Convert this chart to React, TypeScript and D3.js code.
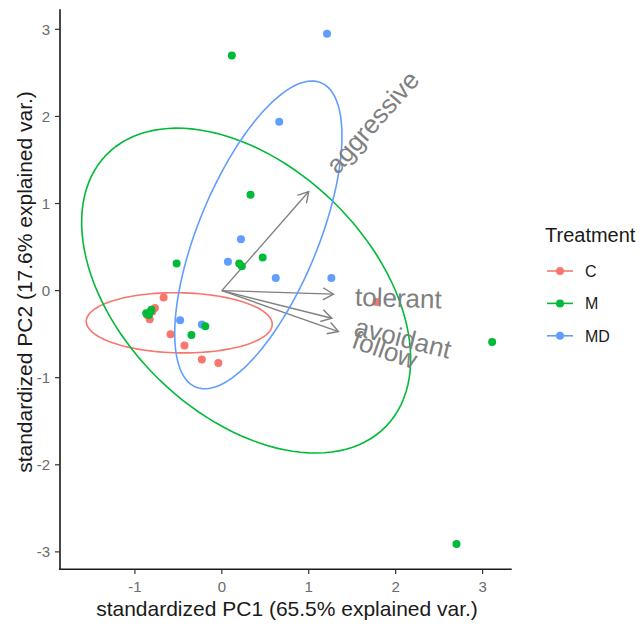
import React, { useEffect, useRef } from "react";
import * as d3 from "d3";

// treatment groups
const groups = ["C", "M", "MD"];
const groupColors = ["#F8766D", "#00BA38", "#619CFF"];

// scores
const cPC1 = [-0.67, -0.77, -0.83, -0.86, -0.8, -0.59, -0.43, -0.23, -0.04, 1.78];
const cPC2 = [-0.08, -0.2, -0.33, -0.28, -0.24, -0.5, -0.63, -0.79, -0.83, -0.13];
const mPC1 = [0.115, 0.33, -0.52, 0.2, 0.23, 0.47, 3.11, 2.7, -0.87, -0.82, -0.84, -0.81, -0.35, -0.19];
const mPC2 = [2.7, 1.1, 0.31, 0.31, 0.28, 0.38, -0.59, -2.91, -0.26, -0.24, -0.28, -0.22, -0.51, -0.41];
const mdPC1 = [1.21, 0.66, 0.22, 0.07, 0.62, 1.26, -0.48, -0.23];
const mdPC2 = [2.95, 1.94, 0.59, 0.33, 0.146, 0.146, -0.34, -0.39];

// loadings
const varNames = ["aggressive", "tolerant", "avoidant", "follow"];
const varPC1 = [1.0, 1.284, 1.266, 1.342];
const varPC2 = [1.137, -0.04, -0.317, -0.47];

// 68% ellipses per group
const ellCx = [-0.49, 0.28, 0.42];
const ellCy = [-0.37, 0.0, 0.64];
const ellA = [1.07, 2.24, 1.89];
const ellB = [0.345, 1.43, 0.69];
const ellAngle = [-1, -44, 67.6];

const xTicks = [-1, 0, 1, 2, 3];
const yTicks = [-3, -2, -1, 0, 1, 2, 3];

const FONT = "'Liberation Sans', Arial, sans-serif";

const App = () => {
  const svgRef = useRef<SVGSVGElement>(null);

  useEffect(() => {
    const svg = d3.select(svgRef.current);
    svg.selectAll("*").remove();

    const x = d3.scaleLinear().domain([-1.862, 3.335]).range([60, 511.7]);
    const y = d3.scaleLinear().domain([-3.2, 3.23]).range([569.3, 9.3]);

    const g = svg.append("g");

    // arrows
    const arrowCol = "#808080";
    varNames.forEach((name, i) => {
      const x0 = x(0), y0 = y(0);
      const x1 = x(varPC1[i]), y1 = y(varPC2[i]);
      g.append("line")
        .attr("x1", x0).attr("y1", y0).attr("x2", x1).attr("y2", y1)
        .attr("stroke", arrowCol).attr("stroke-width", 1.4);
      const ang = Math.atan2(y1 - y0, x1 - x0);
      const len = 12;
      const spread = Math.PI / 6;
      const p = d3.path();
      p.moveTo(x1 - len * Math.cos(ang - spread), y1 - len * Math.sin(ang - spread));
      p.lineTo(x1, y1);
      p.lineTo(x1 - len * Math.cos(ang + spread), y1 - len * Math.sin(ang + spread));
      g.append("path").attr("d", p.toString())
        .attr("fill", "none").attr("stroke", arrowCol).attr("stroke-width", 1.4);
    });

    // points
    const pointSets = [
      { xs: cPC1, ys: cPC2, col: groupColors[0] },
      { xs: mdPC1, ys: mdPC2, col: groupColors[2] },
      { xs: mPC1, ys: mPC2, col: groupColors[1] },
    ];
    pointSets.forEach((s) => {
      g.append("g")
        .selectAll("circle")
        .data(s.xs)
        .enter()
        .append("circle")
        .attr("cx", (d) => x(d))
        .attr("cy", (d, i) => y(s.ys[i]))
        .attr("r", 4)
        .attr("fill", s.col);
    });

    // ellipses
    const line = d3.line<[number, number]>()
      .x((d) => x(d[0]))
      .y((d) => y(d[1]))
      .curve(d3.curveLinearClosed);
    groups.forEach((grp, k) => {
      const th = (ellAngle[k] * Math.PI) / 180;
      const pts: [number, number][] = d3.range(0, 120).map((j) => {
        const t = (j / 120) * 2 * Math.PI;
        const ca = ellA[k] * Math.cos(t), sb = ellB[k] * Math.sin(t);
        return [
          ellCx[k] + ca * Math.cos(th) - sb * Math.sin(th),
          ellCy[k] + ca * Math.sin(th) + sb * Math.cos(th),
        ];
      });
      g.append("path").datum(pts)
        .attr("d", line)
        .attr("fill", "none")
        .attr("stroke", groupColors[k])
        .attr("stroke-width", 1.6);
    });

    // variable labels
    varNames.forEach((name, i) => {
      const px = x(varPC1[i]), py = y(varPC2[i]);
      const deg = (Math.atan2(varPC2[i], varPC1[i]) * 180) / Math.PI;
      const t = g.append("text")
        .attr("font-family", FONT)
        .attr("font-size", 26)
        .attr("fill", "#808080")
        .attr("dy", "0.42em")
        .text(name);
      const w = (t.node() as SVGTextElement).getComputedTextLength();
      t.attr("x", 0.25 * w)
        .attr("transform", `translate(${px},${py}) rotate(${-deg})`);
    });

    // axes
    const axisG = svg.append("g");
    axisG.append("line")
      .attr("x1", 60).attr("x2", 60).attr("y1", 9.3).attr("y2", 570)
      .attr("stroke", "#1a1a1a").attr("stroke-width", 1.6);
    axisG.append("line")
      .attr("x1", 59.2).attr("x2", 511.7).attr("y1", 569.3).attr("y2", 569.3)
      .attr("stroke", "#1a1a1a").attr("stroke-width", 1.6);

    xTicks.forEach((v) => {
      axisG.append("line")
        .attr("x1", x(v)).attr("x2", x(v)).attr("y1", 569.3).attr("y2", 574)
        .attr("stroke", "#333").attr("stroke-width", 1.2);
      axisG.append("text")
        .attr("x", x(v)).attr("y", 592)
        .attr("text-anchor", "middle")
        .attr("font-family", FONT).attr("font-size", 15)
        .attr("fill", "#6b6b6b")
        .text(v);
    });
    yTicks.forEach((v) => {
      axisG.append("line")
        .attr("x1", 55).attr("x2", 60).attr("y1", y(v)).attr("y2", y(v))
        .attr("stroke", "#333").attr("stroke-width", 1.2);
      axisG.append("text")
        .attr("x", 50).attr("y", y(v))
        .attr("dy", "0.36em")
        .attr("text-anchor", "end")
        .attr("font-family", FONT).attr("font-size", 15)
        .attr("fill", "#6b6b6b")
        .text(v);
    });

    svg.append("text")
      .attr("x", 287).attr("y", 616)
      .attr("text-anchor", "middle")
      .attr("font-family", FONT).attr("font-size", 21)
      .attr("fill", "#1a1a1a")
      .text("standardized PC1 (65.5% explained var.)");
    svg.append("text")
      .attr("transform", "translate(32,282) rotate(-90)")
      .attr("text-anchor", "middle")
      .attr("font-family", FONT).attr("font-size", 21)
      .attr("fill", "#1a1a1a")
      .text("standardized PC2 (17.6% explained var.)");

    // legend
    const leg = svg.append("g");
    leg.append("text")
      .attr("x", 545).attr("y", 242)
      .attr("font-family", FONT).attr("font-size", 20)
      .attr("fill", "#1a1a1a")
      .text("Treatment");
    groups.forEach((grp, k) => {
      const ly = 271 + k * 32.4;
      leg.append("line")
        .attr("x1", 547).attr("x2", 573).attr("y1", ly).attr("y2", ly)
        .attr("stroke", groupColors[k]).attr("stroke-width", 1.6);
      leg.append("circle")
        .attr("cx", 560).attr("cy", ly).attr("r", 4)
        .attr("fill", groupColors[k]);
      leg.append("text")
        .attr("x", 585).attr("y", ly).attr("dy", "0.36em")
        .attr("font-family", FONT).attr("font-size", 16)
        .attr("fill", "#1a1a1a")
        .text(grp);
    });
  }, []);

  return (
    <div style={{ position: "absolute", left: 0, top: 0, width: 640, height: 624, background: "white" }}>
      <svg ref={svgRef} width={640} height={624}></svg>
    </div>
  );
};

export default App;
